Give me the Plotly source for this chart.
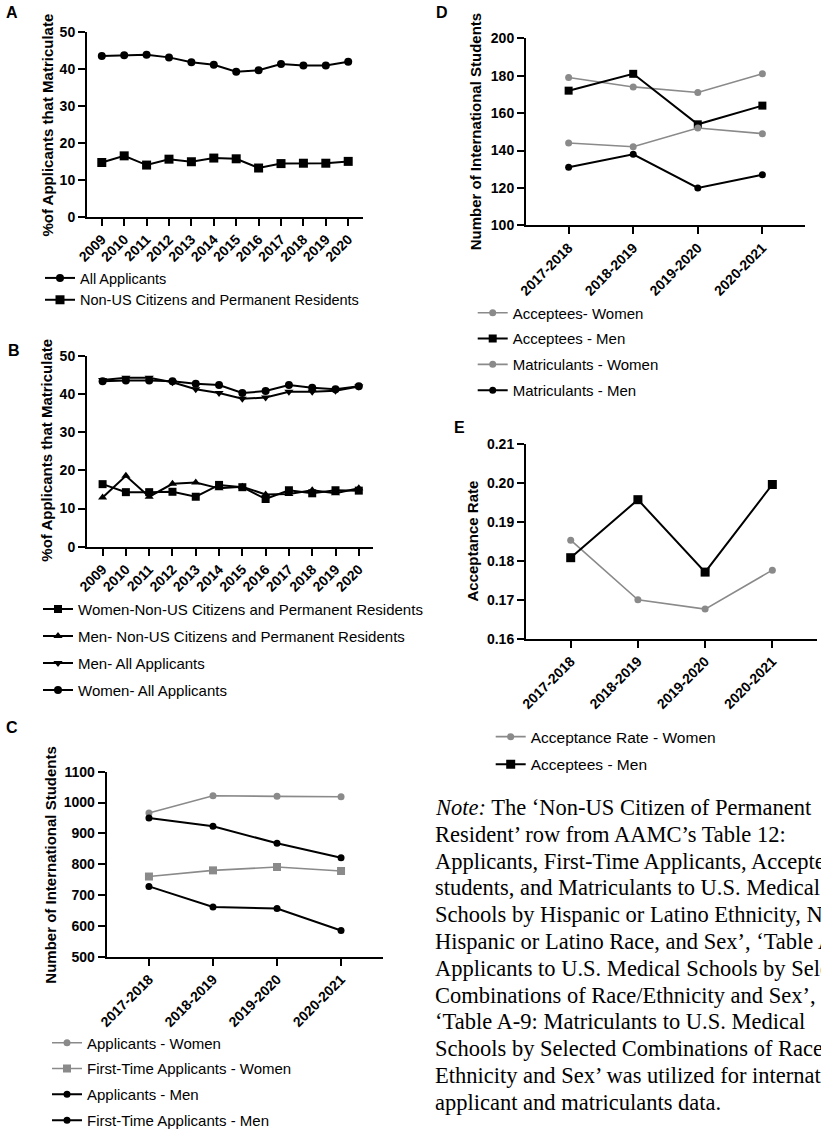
import plotly.graph_objects as go

W, H = 821, 1131

# ---------------- data ----------------
years = ["2009", "2010", "2011", "2012", "2013", "2014", "2015", "2016", "2017", "2018", "2019", "2020"]
A_all_applicants = [43.6, 43.8, 43.9, 43.2, 41.9, 41.2, 39.3, 39.7, 41.4, 41.0, 41.0, 42.0]
A_non_us = [14.7, 16.5, 14.0, 15.6, 14.9, 15.9, 15.7, 13.2, 14.4, 14.5, 14.5, 15.0]

B_women_non_us = [16.4, 14.3, 14.3, 14.4, 13.1, 16.2, 15.6, 12.5, 14.8, 14.0, 14.8, 14.7]
B_men_non_us = [12.9, 18.6, 13.1, 16.5, 16.8, 15.3, 15.7, 13.7, 13.8, 14.8, 14.0, 15.3]
B_men_all = [43.7, 44.3, 44.3, 43.1, 41.3, 40.3, 38.8, 39.1, 40.6, 40.6, 40.9, 42.0]
B_women_all = [43.4, 43.6, 43.6, 43.4, 42.7, 42.4, 40.3, 40.8, 42.4, 41.7, 41.3, 42.1]

cycles = ["2017-2018", "2018-2019", "2019-2020", "2020-2021"]
C_applicants_women = [966, 1022, 1020, 1019]
C_first_time_women = [760, 780, 791, 778]
C_applicants_men = [950, 923, 868, 821]
C_first_time_men = [728, 661, 656, 585]

D_acceptees_women = [179, 174, 171, 181]
D_acceptees_men = [172, 181, 154, 164]
D_matriculants_women = [144, 142, 152, 149]
D_matriculants_men = [131, 138, 120, 127]

E_rate_women = [0.1853, 0.1700, 0.1676, 0.1776]
E_acceptees_men = [0.1808, 0.1957, 0.1771, 0.1996]

note_lines = [
    "<i>Note:</i> The \u2018Non-US Citizen of Permanent",
    "Resident\u2019 row from AAMC\u2019s Table 12:",
    "Applicants, First-Time Applicants, Accepted",
    "students, and Matriculants to U.S. Medical",
    "Schools by Hispanic or Latino Ethnicity, Non-",
    "Hispanic or Latino Race, and Sex\u2019, \u2018Table A-7:",
    "Applicants to U.S. Medical Schools by Selected",
    "Combinations of Race/Ethnicity and Sex\u2019, and",
    "\u2018Table A-9: Matriculants to U.S. Medical",
    "Schools by Selected Combinations of Race/",
    "Ethnicity and Sex\u2019 was utilized for international",
    "applicant and matriculants data.",
]

BLACK = "#000000"
GRAY = "#8a8a8a"
SANS = "Liberation Sans, Arial, Helvetica, sans-serif"
SERIF = "Liberation Serif, Times New Roman, serif"


def xd(a, b):
    return [a / W, b / W]


def yd(top, bottom):
    return [1 - bottom / H, 1 - top / H]


def px(x):
    return x / W


def py(y):
    return 1 - y / H


fig = go.Figure()


def add(x, y, name, color, symbol, size, width, xa, ya, legend, group):
    fig.add_trace(go.Scatter(
        x=x, y=y, name=name, mode="lines+markers",
        line=dict(color=color, width=width),
        marker=dict(color=color, symbol=symbol, size=size, line=dict(width=0)),
        xaxis=xa, yaxis=ya, legend=legend, legendgroup=group, showlegend=True,
        cliponaxis=False,
    ))


idxA = list(range(len(years)))
idxC = list(range(len(cycles)))

# A
add(idxA, A_all_applicants, "All Applicants", BLACK, "circle", 8, 2, "x", "y", "legend", "a1")
add(idxA, A_non_us, "Non-US Citizens and Permanent Residents", BLACK, "square", 9, 2, "x", "y", "legend", "a2")
# B
add(idxA, B_women_non_us, "Women-Non-US Citizens and Permanent Residents", BLACK, "square", 8, 2, "x2", "y2", "legend2", "b1")
add(idxA, B_men_non_us, "Men- Non-US Citizens and Permanent Residents", BLACK, "triangle-up", 8, 2, "x2", "y2", "legend2", "b2")
add(idxA, B_men_all, "Men- All Applicants", BLACK, "triangle-down", 8, 2, "x2", "y2", "legend2", "b3")
add(idxA, B_women_all, "Women- All Applicants", BLACK, "circle", 8, 2, "x2", "y2", "legend2", "b4")
# C
add(idxC, C_applicants_women, "Applicants - Women", GRAY, "circle", 7, 1.6, "x3", "y3", "legend3", "c1")
add(idxC, C_first_time_women, "First-Time Applicants - Women", GRAY, "square", 8, 1.6, "x3", "y3", "legend3", "c2")
add(idxC, C_applicants_men, "Applicants - Men", BLACK, "circle", 7, 2, "x3", "y3", "legend3", "c3")
add(idxC, C_first_time_men, "First-Time Applicants - Men", BLACK, "circle", 7, 2, "x3", "y3", "legend3", "c4")
# D
add(idxC, D_acceptees_women, "Acceptees- Women", GRAY, "circle", 7, 1.6, "x4", "y4", "legend4", "d1")
add(idxC, D_acceptees_men, "Acceptees - Men", BLACK, "square", 8, 2, "x4", "y4", "legend4", "d2")
add(idxC, D_matriculants_women, "Matriculants - Women", GRAY, "circle", 7, 1.6, "x4", "y4", "legend4", "d3")
add(idxC, D_matriculants_men, "Matriculants - Men", BLACK, "circle", 7, 2, "x4", "y4", "legend4", "d4")
# E
add(idxC, E_rate_women, "Acceptance Rate - Women", GRAY, "circle", 7, 1.6, "x5", "y5", "legend5", "e1")
add(idxC, E_acceptees_men, "Acceptees - Men", BLACK, "square", 9, 2, "x5", "y5", "legend5", "e2")

tickfont = dict(family=SANS, size=14, color=BLACK, weight="bold")


def axis_common(**kw):
    d = dict(showline=True, linecolor=BLACK, linewidth=2, ticks="outside", ticklen=7,
             tickwidth=2, tickcolor=BLACK, showgrid=False, zeroline=False,
             tickfont=tickfont, fixedrange=True, automargin=False)
    d.update(kw)
    return d


layout = dict(
    width=W, height=H, margin=dict(l=0, r=0, t=0, b=0, autoexpand=False),
    paper_bgcolor="white", plot_bgcolor="white",
    font=dict(family=SANS, color=BLACK),
    # A
    xaxis=axis_common(domain=xd(87, 363), range=[-0.66, 11.66], tickvals=idxA, ticktext=years,
                      tickangle=-45, anchor="y"),
    yaxis=axis_common(domain=yd(32.3, 216.7), range=[0, 50], dtick=10, anchor="x"),
    # B
    xaxis2=axis_common(domain=xd(87, 373), range=[-0.67, 11.61], tickvals=idxA, ticktext=years,
                       tickangle=-45, anchor="y2"),
    yaxis2=axis_common(domain=yd(356, 546.7), range=[0, 50], dtick=10, anchor="x2"),
    # C
    xaxis3=axis_common(domain=xd(106.7, 383.3), range=[-0.66, 3.66], tickvals=idxC, ticktext=cycles,
                       tickangle=-45, anchor="y3"),
    yaxis3=axis_common(domain=yd(771.7, 956.7), range=[500, 1100], dtick=100, anchor="x3"),
    # D
    xaxis4=axis_common(domain=xd(526, 805), range=[-0.66, 3.66], tickvals=idxC, ticktext=cycles,
                       tickangle=-45, anchor="y4"),
    yaxis4=axis_common(domain=yd(38.3, 225.3), range=[100, 200], dtick=20, anchor="x4"),
    # E
    xaxis5=axis_common(domain=xd(526, 816.7), range=[-0.665, 3.66], tickvals=idxC, ticktext=cycles,
                       tickangle=-45, anchor="y5"),
    yaxis5=axis_common(domain=yd(444, 638.7), range=[0.16, 0.21], dtick=0.01, tickformat=".2f",
                       anchor="x5"),
)


def leg(x_origin, y_top, size, gap, order="grouped"):
    return dict(x=px(x_origin), y=py(y_top), xanchor="left", yanchor="top",
                bgcolor="rgba(0,0,0,0)", borderwidth=0, itemwidth=30,
                font=dict(family=SANS, size=size, color=BLACK),
                traceorder=order, tracegroupgap=gap, itemclick=False, itemdoubleclick=False)


layout["legend"] = leg(40, 262, 14.5, 0)
layout["legend2"] = leg(38, 592.7, 15, 4.5)
layout["legend3"] = leg(47, 1026.5, 15, 3.3)
layout["legend4"] = leg(472.7, 296.5, 15, 3.3)
layout["legend5"] = leg(490.7, 720.1, 15.5, 4.45)

fig.update_layout(**layout)

ann = []
# panel letters
for letter, cx, cy in [("A", 12, 13), ("B", 14.5, 350), ("C", 12, 727.5), ("D", 442, 13), ("E", 459, 428)]:
    ann.append(dict(text=letter, x=px(cx), y=py(cy), xref="paper", yref="paper",
                    xanchor="center", yanchor="middle", showarrow=False,
                    font=dict(family=SANS, size=16, color=BLACK, weight="bold")))
# y titles
for title, cx, cy in [("%of Applicants that Matriculate", 46.5, 125),
                      ("%of Applicants that Matriculate", 45.7, 450),
                      ("Number of International Students", 49.7, 865),
                      ("Number of International Students", 476.3, 131),
                      ("Acceptance Rate", 471.5, 541)]:
    ann.append(dict(text=title, x=px(cx), y=py(cy), xref="paper", yref="paper",
                    xanchor="center", yanchor="middle", textangle=-90, showarrow=False,
                    font=dict(family=SANS, size=15, color=BLACK, weight="bold")))
# note (one line per annotation to match the tight line spacing)
for i, line in enumerate(note_lines):
    ann.append(dict(text=line, x=px(433), y=py(807.5 + i * 26.8), xref="paper", yref="paper",
                    xanchor="left", yanchor="middle", align="left", showarrow=False,
                    font=dict(family=SERIF, size=22.5, color=BLACK)))
fig.update_layout(annotations=ann)

fig.write_html("out.html")
